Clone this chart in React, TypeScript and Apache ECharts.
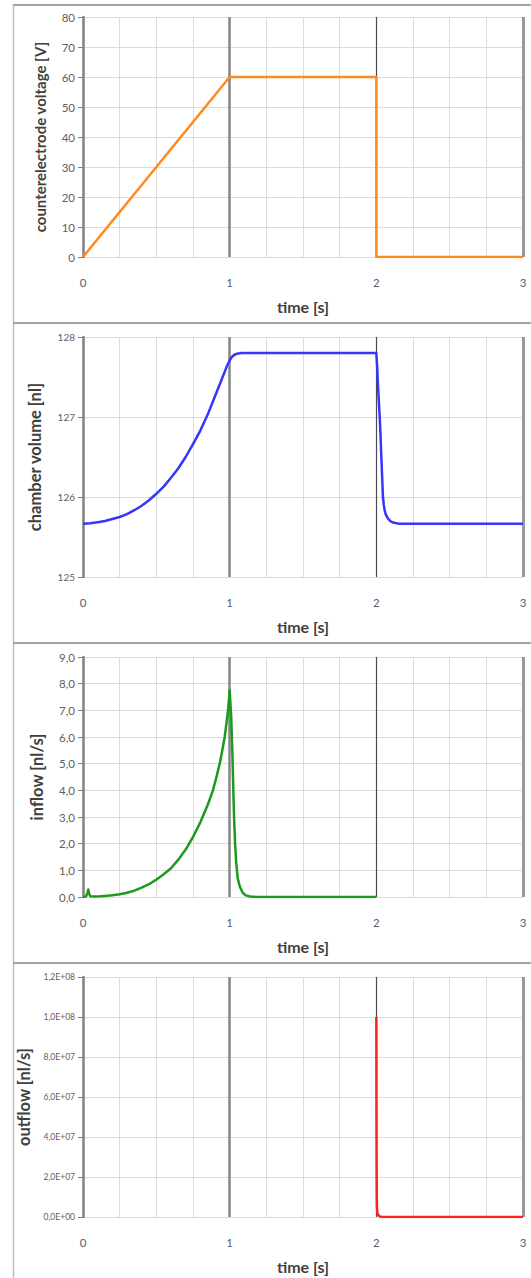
import React, { useEffect, useRef } from "react";
import * as echarts from "echarts";

// ---- data ----
const voltageTime = [0, 1, 2, 2, 3];
const voltage = [0, 60, 60, 0, 0];

const volumeTime = [0, 0.05, 0.1, 0.15, 0.2, 0.25, 0.3, 0.35, 0.4, 0.45, 0.5, 0.55, 0.6, 0.65, 0.7, 0.75, 0.8, 0.85, 0.9, 0.95, 0.98, 1.0, 1.015, 1.03, 1.05, 1.08, 2.0, 2.006, 2.011, 2.017, 2.023, 2.029, 2.034, 2.04, 2.045, 2.051, 2.057, 2.065, 2.08, 2.095, 2.114, 2.15, 3.0];
const volume = [125.667, 125.672, 125.685, 125.7, 125.725, 125.75, 125.785, 125.835, 125.89, 125.96, 126.04, 126.13, 126.24, 126.36, 126.5, 126.66, 126.83, 127.03, 127.26, 127.49, 127.63, 127.71, 127.75, 127.775, 127.792, 127.8, 127.8, 127.62, 127.4, 127.2, 127.0, 126.75, 126.5, 126.24, 126.0, 125.9, 125.83, 125.78, 125.73, 125.7, 125.68, 125.667, 125.667];

const inflowTime = [0, 0.02, 0.03, 0.036, 0.042, 0.05, 0.08, 0.114, 0.15, 0.2, 0.25, 0.3, 0.35, 0.4, 0.45, 0.5, 0.55, 0.6, 0.65, 0.7, 0.75, 0.8, 0.85, 0.886, 0.91, 0.932, 0.95, 0.966, 0.978, 0.989, 1.0, 1.01, 1.018, 1.024, 1.03, 1.037, 1.045, 1.055, 1.07, 1.09, 1.11, 1.14, 1.18, 2.0];
const inflow = [0, 0.02, 0.15, 0.28, 0.12, 0.03, 0.02, 0.025, 0.04, 0.065, 0.1, 0.16, 0.24, 0.35, 0.48, 0.65, 0.85, 1.08, 1.4, 1.78, 2.25, 2.8, 3.45, 4.0, 4.5, 5.0, 5.5, 6.0, 6.5, 7.0, 7.75, 6.8, 5.5, 4.2, 3.0, 2.0, 1.25, 0.7, 0.375, 0.15, 0.06, 0.02, 0, 0];

const outflowTime = [2.0, 2.001, 2.002, 2.003, 2.004, 2.006, 2.008, 2.011, 2.016, 2.023, 2.035, 2.05, 3.0];
const outflow = [1.0e8, 5.0e7, 2.2e7, 1.0e7, 5.0e6, 3.0e6, 2.0e6, 1.2e6, 7.0e5, 3.0e5, 1.0e5, 0, 0];

const xTicks = [0, 1, 2, 3];

const panels = [
  { name: "counterelectrode voltage [V]", t: voltageTime, v: voltage, color: "#ff8a1e", min: 0, max: 80, interval: 10, fmt: (x: number) => String(x), labelSize: 11.5, nameSize: 15, nameGap: 35.5 },
  { name: "chamber volume [nl]", t: volumeTime, v: volume, color: "#3535ff", min: 125, max: 128, interval: 1, fmt: (x: number) => String(x), labelSize: 10, nameSize: 16.5, nameGap: 39.5 },
  { name: "inflow [nl/s]", t: inflowTime, v: inflow, color: "#1c9a1c", min: 0, max: 9, interval: 1, fmt: (x: number) => x.toFixed(1).replace(".", ","), labelSize: 11.5, nameSize: 16.5, nameGap: 37.5 },
  { name: "outflow [nl/s]", t: outflowTime, v: outflow, color: "#ff2020", min: 0, max: 1.2e8, interval: 2e7, fmt: (x: number) => {
      if (x === 0) return "0,0E+00";
      const e = Math.floor(Math.log10(x) + 1e-9);
      const m = x / Math.pow(10, e);
      return m.toFixed(1).replace(".", ",") + "E+" + String(e).padStart(2, "0");
    }, labelSize: 8.5, nameSize: 16.5, nameGap: 46.5 },
];

const FONT = "Lato, 'Open Sans', sans-serif";

export default function App() {
  const ref = useRef<HTMLDivElement>(null);
  useEffect(() => {
    if (!ref.current) return;
    const chart = echarts.init(ref.current, null, { renderer: "svg" });
    const grids: any[] = [];
    const xAxes: any[] = [];
    const yAxes: any[] = [];
    const series: any[] = [];
    panels.forEach((p, i) => {
      grids.push({ left: 83, top: 17 + 320 * i, width: 440, height: 240 });
      xAxes.push({
        type: "value", gridIndex: i, min: 0, max: 3, interval: 0.25,
        name: "time [s]", nameLocation: "middle", nameGap: 41,
        nameTextStyle: { fontFamily: FONT, fontWeight: "bold", fontSize: 16, color: "#404040" },
        axisLine: { show: false }, axisTick: { show: false },
        axisLabel: {
          margin: 19, fontFamily: FONT, fontSize: 11.5, color: "#606060",
          formatter: (v: number) => (xTicks.indexOf(v) >= 0 ? String(v) : ""),
        },
        splitLine: { show: true, lineStyle: { color: "#dcdcdc", width: 1 } },
      });
      yAxes.push({
        type: "value", gridIndex: i, min: p.min, max: p.max, interval: p.interval,
        name: p.name, nameLocation: "middle", nameGap: p.nameGap,
        nameTextStyle: { fontFamily: FONT, fontWeight: "bold", fontSize: p.nameSize, color: "#404040" },
        axisLine: { show: true, lineStyle: { color: "#808080", width: 2.5 } },
        axisTick: { show: true, length: 5, lineStyle: { color: "#808080", width: 1 } },
        axisLabel: { margin: 8, fontFamily: FONT, fontSize: p.labelSize, color: "#606060", formatter: p.fmt },
        splitLine: { show: true, lineStyle: { color: "#dcdcdc", width: 1 } },
      });
      series.push({
        type: "line", xAxisIndex: i, yAxisIndex: i, data: [], z: 1, silent: true,
        markLine: {
          silent: true, symbol: ["none", "none"], label: { show: false },
          data: [
            { xAxis: 1, lineStyle: { color: "#858585", width: 2.5, type: "solid" } },
            { xAxis: 2, lineStyle: { color: "#4a4a4a", width: 1.2, type: "solid" } },
            { xAxis: 3, lineStyle: { color: "#999999", width: 3, type: "solid" } },
          ],
        },
      });
      series.push({
        type: "line", xAxisIndex: i, yAxisIndex: i, z: 5,
        data: p.t.map((t, k) => [t, p.v[k]]),
        showSymbol: false, symbol: "none",
        lineStyle: { color: p.color, width: 2.5, join: "round" },
        itemStyle: { color: p.color },
      });
    });
    const border = "#a3a3a3";
    chart.setOption({
      animation: false,
      grid: grids, xAxis: xAxes, yAxis: yAxes, series,
      graphic: [
        { type: "line", shape: { x1: 13.5, y1: 5, x2: 13.5, y2: 1278 }, style: { stroke: "#bdbdbd", lineWidth: 1.5 } },
        { type: "line", shape: { x1: 13, y1: 5, x2: 531, y2: 5 }, style: { stroke: border, lineWidth: 2 } },
        { type: "line", shape: { x1: 13, y1: 323, x2: 531, y2: 323 }, style: { stroke: border, lineWidth: 2 } },
        { type: "line", shape: { x1: 13, y1: 643, x2: 531, y2: 643 }, style: { stroke: border, lineWidth: 2 } },
        { type: "line", shape: { x1: 13, y1: 963, x2: 531, y2: 963 }, style: { stroke: border, lineWidth: 2 } },
      ],
    });
    return () => chart.dispose();
  }, []);
  return (
    <div
      ref={ref}
      style={{ position: "absolute", left: 0, top: 0, width: 531, height: 1278, background: "#ffffff" }}
    />
  );
}
